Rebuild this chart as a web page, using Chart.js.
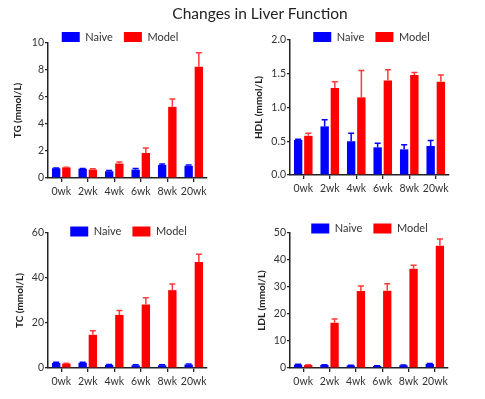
<!DOCTYPE html>
<html><head><meta charset="utf-8">
<script src="https://cdn.jsdelivr.net/npm/chart.js@4"></script>
<style>
html,body{margin:0;padding:0;background:#fff;overflow:hidden;width:485px;height:399px;}
#title{position:absolute;left:110px;width:300px;top:4px;text-align:center;font:15.5px Lato, sans-serif;color:#222;white-space:nowrap;z-index:5}
.box{position:absolute}
canvas{display:block}
</style></head><body>
<div id="title">Changes in Liver Function</div>
<div class="box" style="left:0px;top:5px"><canvas id="c1" width="240" height="195"></canvas></div>
<div class="box" style="left:240px;top:5px"><canvas id="c2" width="266" height="192"></canvas></div>
<div class="box" style="left:0px;top:200px"><canvas id="c3" width="259" height="190"></canvas></div>
<div class="box" style="left:240px;top:200px"><canvas id="c4" width="261" height="190"></canvas></div>
<script>
const weeks = ['0wk','2wk','4wk','6wk','8wk','20wk'];

const tgNaive    = [0.72, 0.68, 0.50, 0.62, 0.97, 0.90];
const tgNaiveErr = [0.03, 0.03, 0.06, 0.08, 0.07, 0.07];
const tgModel    = [0.78, 0.62, 1.07, 1.85, 5.27, 8.25];
const tgModelErr = [0.02, 0.06, 0.12, 0.38, 0.58, 1.02];

const hdlNaive    = [0.52, 0.72, 0.50, 0.41, 0.38, 0.43];
const hdlNaiveErr = [0.01, 0.10, 0.12, 0.06, 0.07, 0.08];
const hdlModel    = [0.58, 1.29, 1.15, 1.40, 1.48, 1.38];
const hdlModelErr = [0.04, 0.09, 0.40, 0.16, 0.04, 0.10];

const tcNaive    = [2.25, 2.3, 1.35, 1.2, 1.2, 1.5];
const tcNaiveErr = [0.3, 0.3, 0.2, 0.2, 0.2, 0.3];
const tcModel    = [1.96, 14.75, 23.6, 28.2, 34.6, 47.1];
const tcModelErr = [0.1, 1.85, 2.0, 3.0, 2.7, 3.5];

const ldlNaive    = [1.25, 1.1, 0.9, 0.75, 1.0, 1.5];
const ldlNaiveErr = [0.15, 0.1, 0.1, 0.1, 0.15, 0.2];
const ldlModel    = [1.1, 16.75, 28.5, 28.6, 36.75, 45.25];
const ldlModelErr = [0.15, 1.4, 1.9, 2.65, 1.3, 2.5];

const BLUE = '#0000ff', RED = '#ff0000';
const FONT = 'Lato, "Open Sans", sans-serif';

const errorBars = {
  id: 'errorBars',
  afterDatasetsDraw(chart) {
    const ctx = chart.ctx, ys = chart.scales.y;
    chart.data.datasets.forEach((ds, i) => {
      const meta = chart.getDatasetMeta(i);
      if (!ds.errors || meta.hidden) return;
      ctx.save();
      ctx.strokeStyle = ds.errorColor;
      ctx.lineWidth = 1.5;
      meta.data.forEach((el, j) => {
        const yTop = ys.getPixelForValue(ds.data[j] + ds.errors[j]);
        ctx.beginPath();
        ctx.moveTo(el.x, el.y);
        ctx.lineTo(el.x, yTop);
        ctx.moveTo(el.x - 3, yTop);
        ctx.lineTo(el.x + 3, yTop);
        ctx.stroke();
      });
      ctx.restore();
    });
  }
};

const legendShift = {
  id: 'legendShift',
  afterLayout(chart, args, opts) {
    const lg = chart.legend;
    if (!lg) return;
    if (opts.dy) { lg.top += opts.dy; lg.bottom += opts.dy; }
    if (opts.dx) { lg.left += opts.dx; lg.right += opts.dx; }
  }
};

function makeChart(id, cfg) {
  new Chart(document.getElementById(id), {
    type: 'bar',
    data: {
      labels: weeks,
      datasets: [
        {label: 'Naive', data: cfg.naive, errors: cfg.naiveErr, errorColor: BLUE,
         backgroundColor: BLUE, borderWidth: 0},
        {label: 'Model', data: cfg.model, errors: cfg.modelErr, errorColor: '#ff3b3b',
         backgroundColor: RED, borderWidth: 0}
      ]
    },
    plugins: [errorBars, legendShift],
    options: {
      responsive: false,
      animation: false,
      categoryPercentage: 0.77,
      barPercentage: 0.82,
      layout: {padding: {top: cfg.padTop, right: cfg.padRight, left: 0, bottom: 0}},
      plugins: {
        legend: {
          position: 'top',
          labels: {boxWidth: 18, boxHeight: 10, padding: 11, color: '#333',
                   font: {family: FONT, size: 11}}
        },
        legendShift: {dy: cfg.legendDy, dx: cfg.legendDx},
        tooltip: {enabled: false}
      },
      scales: {
        x: {
          grid: {display: true, drawOnChartArea: false, offset: false, tickLength: 4, color: '#222', lineWidth: 1.3},
          border: {color: '#222', width: 1.5},
          ticks: {color: '#333', padding: 3, font: {family: FONT, size: 10.5}, maxRotation: 0, autoSkip: false},
          afterFit: s => { s.height = cfg.xHeight; }
        },
        y: {
          min: 0, max: cfg.max,
          grid: {display: true, drawOnChartArea: false, tickLength: 3, color: '#222', lineWidth: 1.3},
          border: {color: '#222', width: 1.5},
          ticks: {color: '#333', padding: 1, stepSize: cfg.step, font: {family: FONT, size: 10.5},
                  callback: v => cfg.dec ? v.toFixed(cfg.dec) : v},
          title: {display: true, text: cfg.title, color: '#222',
                  font: {family: FONT, size: 10, weight: 'bold'}, padding: {top: cfg.titlePad, bottom: 0}},
          afterFit: s => { s.width = cfg.yWidth; }
        }
      }
    }
  });
}

makeChart('c1', {naive: tgNaive, naiveErr: tgNaiveErr, model: tgModel, modelErr: tgModelErr,
  max: 10, step: 2, dec: 0, title: 'TG (mmol/L)', padTop: 6, padRight: 33, legendDy: 9.5, legendDx: 16.5,
  xHeight: 22, yWidth: 48, titlePad: 12});
makeChart('c2', {naive: hdlNaive, naiveErr: hdlNaiveErr, model: hdlModel, modelErr: hdlModelErr,
  max: 2, step: 0.5, dec: 1, title: 'HDL (mmol/L)', padTop: 3, padRight: 57, legendDy: 12.5, legendDx: 27,
  xHeight: 22, yWidth: 50, titlePad: 13});
makeChart('c3', {naive: tcNaive, naiveErr: tcNaiveErr, model: tcModel, modelErr: tcModelErr,
  max: 60, step: 20, dec: 0, title: 'TC (mmol/L)', padTop: 1, padRight: 52, legendDy: 14, legendDx: 25,
  xHeight: 22, yWidth: 48, titlePad: 14});
makeChart('c4', {naive: ldlNaive, naiveErr: ldlNaiveErr, model: ldlModel, modelErr: ldlModelErr,
  max: 50, step: 10, dec: 0, title: 'LDL (mmol/L)', padTop: 1, padRight: 53, legendDy: 11, legendDx: 25.5,
  xHeight: 22, yWidth: 50, titlePad: 16});
</script>
</body></html>
